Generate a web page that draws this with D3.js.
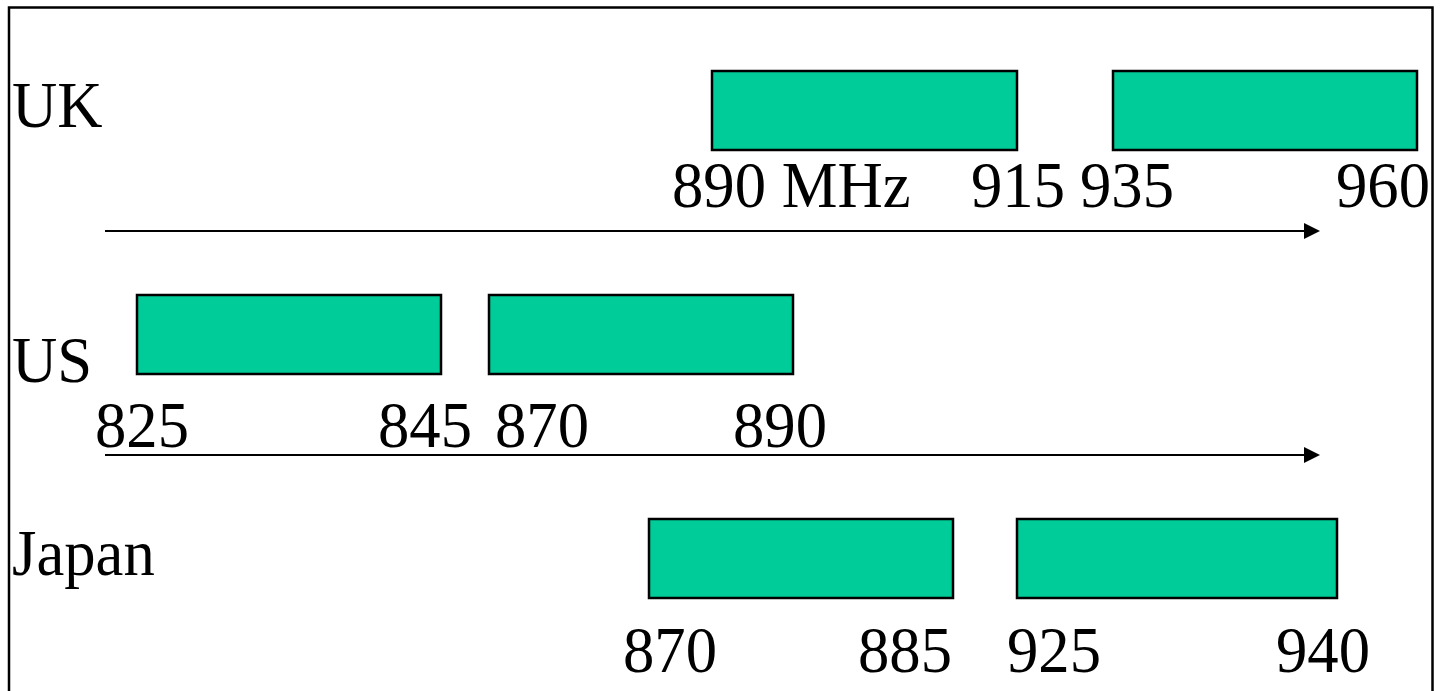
<!DOCTYPE html>
<html>
<head>
<meta charset="utf-8">
<script src="https://cdn.jsdelivr.net/npm/d3@7"></script>
<style>
  html, body { margin: 0; padding: 0; background: #ffffff; }
  svg { display: block; }
  text { font-family: "Liberation Serif", "Times New Roman", serif; fill: #000; }
</style>
</head>
<body>
<svg id="chart" width="1441" height="691"></svg>
<script>
// ---------------- data ----------------
const countries      = ["UK", "US", "Japan"];
const uplinkStart    = [890, 825, 870];   // MHz
const uplinkEnd      = [915, 845, 885];
const downlinkStart  = [935, 870, 925];
const downlinkEnd    = [960, 890, 940];
const edgeLabels = [
  ["890 MHz", "915", "935", "960"],
  ["825", "845", "870", "890"],
  ["870", "885", "925", "940"]
];

// ---------------- layout (schematic, not to scale) ----------------
const W = 1441, H = 691;
const rowLeft   = [712, 137, 649];          // left edge of first band
const bandW1    = [305, 304, 304];          // drawn width of uplink band
const bandGap   = [96, 48, 64];             // drawn gap between bands
const bandW2    = [304, 304, 320];          // drawn width of downlink band
const labelNudge = [                        // dx of each edge label from its edge
  [-40, 48, -33, 13],
  [-42, 31, 6, 34],
  [-26, -1, -10, 33]
];
const labelDy   = [136, 152, 153];          // edge-label baseline below bar top
const nameDy    = [56, 87, 56];             // country name baseline below bar top
const barH = 79;
const fontSize = 66;
const squeeze = 0.95;                       // slight horizontal condensing of the type

const svg = d3.select("#chart");
svg.append("rect").attr("width", W).attr("height", H).attr("fill", "#fff");

// vertical scale for rows
const y = d3.scalePoint().domain(countries).range([71, 519]);

const rows = countries.map((c, i) => {
  const edges = [uplinkStart[i], uplinkEnd[i], downlinkStart[i], downlinkEnd[i]];
  const r0 = rowLeft[i];
  const r1 = r0 + bandW1[i];
  const r2 = r1 + bandGap[i];
  const r3 = r2 + bandW2[i];
  // piecewise (polylinear) frequency -> schematic x scale
  const x = d3.scaleLinear().domain(edges).range([r0, r1, r2, r3]);
  return { c, i, edges, x };
});

function place(sel, fx, fy) {
  sel.attr("x", 0).attr("y", 0)
     .attr("transform", (d, k) => `translate(${fx(d, k)},${fy(d, k)}) scale(${squeeze},1)`);
}

// bars
rows.forEach(r => {
  const bands = [[r.edges[0], r.edges[1]], [r.edges[2], r.edges[3]]];
  svg.append("g").selectAll("rect")
    .data(bands).join("rect")
    .attr("x", d => r.x(d[0]))
    .attr("y", y(r.c))
    .attr("width", d => r.x(d[1]) - r.x(d[0]))
    .attr("height", barH)
    .attr("fill", "#00CC99")
    .attr("stroke", "#000")
    .attr("stroke-width", 2.5);

  // edge labels
  const t = svg.append("g").selectAll("text")
    .data(r.edges).join("text")
    .attr("text-anchor", (d, k) => (k % 2 === 0 ? "start" : "end"))
    .attr("font-size", fontSize)
    .text((d, k) => edgeLabels[r.i][k]);
  place(t, (d, k) => r.x(d) + labelNudge[r.i][k], () => y(r.c) + labelDy[r.i]);

  // country name
  const n = svg.append("text").datum(r.c)
    .attr("font-size", fontSize)
    .text(r.c);
  place(n, () => 12, () => y(r.c) + nameDy[r.i]);
});

// frequency arrows between rows
const arrowX0 = 105, arrowX1 = 1320, headL = 16, headH = 8;
const arrowRows = countries.slice(0, 2);
const ag = svg.append("g");
arrowRows.forEach(c => {
  const ay = y(c) + 160;
  ag.append("line")
    .attr("x1", arrowX0).attr("x2", arrowX1 - headL + 1)
    .attr("y1", ay).attr("y2", ay)
    .attr("stroke", "#000").attr("stroke-width", 2.2);
  ag.append("path")
    .attr("d", `M${arrowX1 - headL},${ay - headH}L${arrowX1},${ay}L${arrowX1 - headL},${ay + headH}Z`)
    .attr("fill", "#000");
});

// frame
svg.append("rect")
  .attr("x", 9).attr("y", 7.5)
  .attr("width", 1423.5).attr("height", 720)
  .attr("fill", "none")
  .attr("stroke", "#000")
  .attr("stroke-width", 2.5);
</script>
</body>
</html>
